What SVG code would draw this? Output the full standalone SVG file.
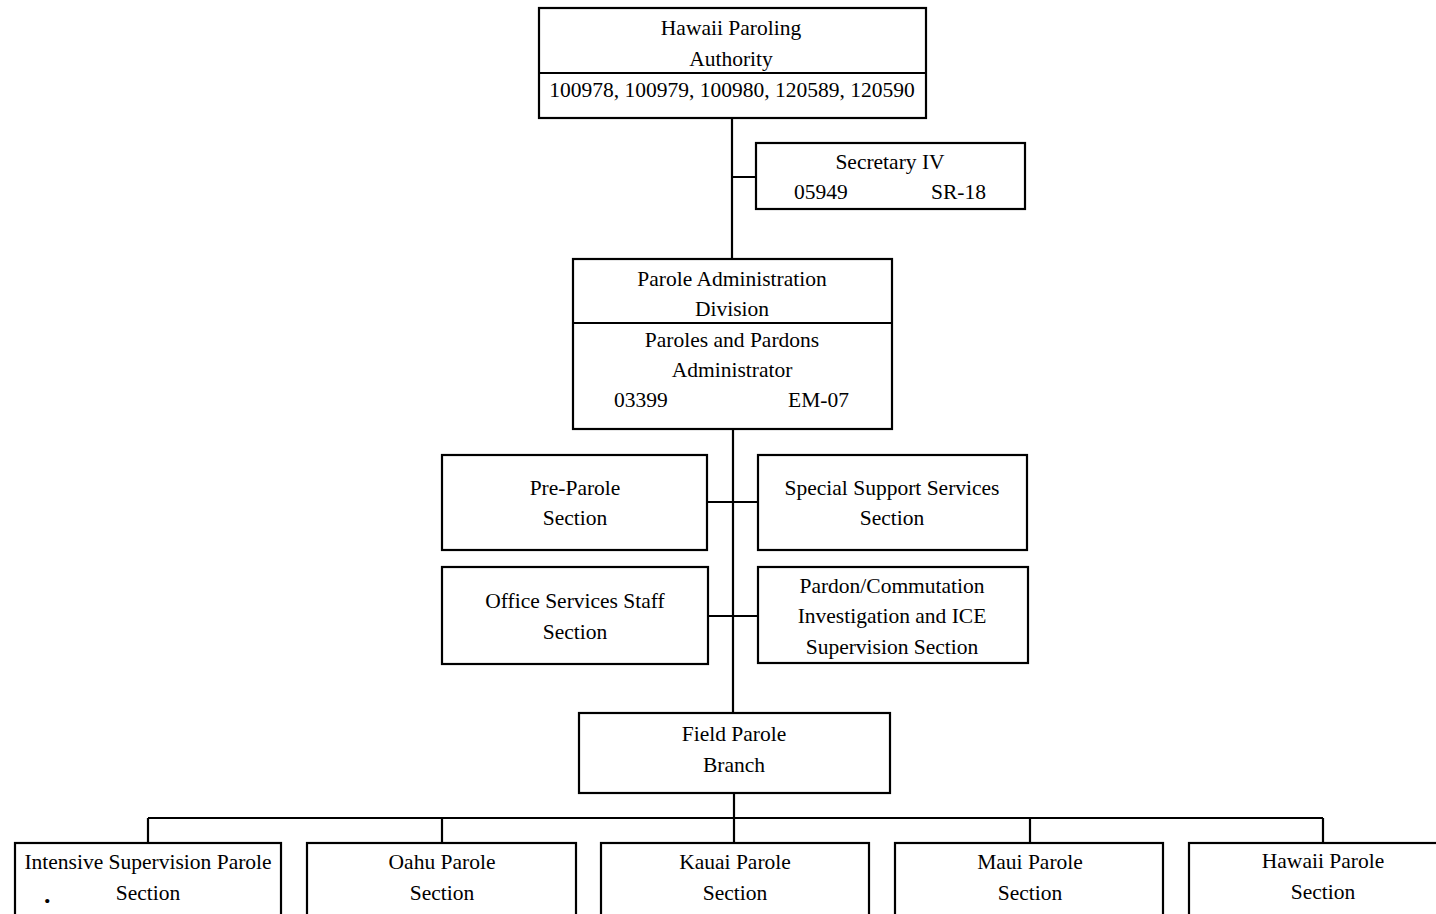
<svg xmlns="http://www.w3.org/2000/svg" width="1436" height="914" viewBox="0 0 1436 914">
<style>
.box{fill:#fff;stroke:#000;stroke-width:2.2}
.ln{stroke:#000;stroke-width:2.2;fill:none}
text{font-family:"Liberation Serif","Times New Roman",serif;font-size:21.5px;fill:#000}
.c{text-anchor:middle}
.dot{font-weight:bold;font-size:26px}
</style>
<rect width="1436" height="914" fill="#fff"/>
<g id="connectors">
<path class="ln" d="M732 118V259M732 177H756M733 429V713M707 502H758M708 616H758M734 793V843M148 818H1323M148 818V843M442 818V843M1030 818V843M1323 818V843"/>
</g>
<g id="hpa">
<rect class="box" x="539" y="8" width="387" height="110"/>
<line class="ln" x1="539" y1="73" x2="926" y2="73"/>
<text class="c" x="731" y="35">Hawaii Paroling</text>
<text class="c" x="731" y="66">Authority</text>
<text class="c" x="732" y="97">100978, 100979, 100980, 120589, 120590</text>
</g>
<g id="secretary">
<rect class="box" x="756" y="143" width="269" height="66"/>
<text class="c" x="890" y="169">Secretary IV</text>
<text x="794" y="199">05949</text>
<text x="931" y="199">SR-18</text>
</g>
<g id="pad">
<rect class="box" x="573" y="259" width="319" height="170"/>
<line class="ln" x1="573" y1="323" x2="892" y2="323"/>
<text class="c" x="732" y="286">Parole Administration</text>
<text class="c" x="732" y="316">Division</text>
<text class="c" x="732" y="347">Paroles and Pardons</text>
<text class="c" x="732" y="377">Administrator</text>
<text x="614" y="407">03399</text>
<text x="788" y="407">EM-07</text>
</g>
<g id="preparole">
<rect class="box" x="442" y="455" width="265" height="95"/>
<text class="c" x="575" y="495">Pre-Parole</text>
<text class="c" x="575" y="525">Section</text>
</g>
<g id="specialsupport">
<rect class="box" x="758" y="455" width="269" height="95"/>
<text class="c" x="892" y="495">Special Support Services</text>
<text class="c" x="892" y="525">Section</text>
</g>
<g id="officeservices">
<rect class="box" x="442" y="567" width="266" height="97"/>
<text class="c" x="575" y="608">Office Services Staff</text>
<text class="c" x="575" y="639">Section</text>
</g>
<g id="pardon">
<rect class="box" x="758" y="567" width="270" height="96"/>
<text class="c" x="892" y="593">Pardon/Commutation</text>
<text class="c" x="892" y="623">Investigation and ICE</text>
<text class="c" x="892" y="654">Supervision Section</text>
</g>
<g id="fieldparole">
<rect class="box" x="579" y="713" width="311" height="80"/>
<text class="c" x="734" y="741">Field Parole</text>
<text class="c" x="734" y="772">Branch</text>
</g>
<g id="intensive">
<rect class="box" x="15" y="843" width="266" height="80"/>
<text class="c" x="148" y="869">Intensive Supervision Parole</text>
<text class="c" x="148" y="900">Section</text>
<text class="dot" x="44" y="903">.</text>
</g>
<g id="oahu">
<rect class="box" x="307" y="843" width="269" height="80"/>
<text class="c" x="442" y="869">Oahu Parole</text>
<text class="c" x="442" y="900">Section</text>
</g>
<g id="kauai">
<rect class="box" x="601" y="843" width="268" height="80"/>
<text class="c" x="735" y="869">Kauai Parole</text>
<text class="c" x="735" y="900">Section</text>
</g>
<g id="maui">
<rect class="box" x="895" y="843" width="268" height="80"/>
<text class="c" x="1030" y="869">Maui Parole</text>
<text class="c" x="1030" y="900">Section</text>
</g>
<g id="hawaii">
<rect class="box" x="1189" y="843" width="260" height="80"/>
<text class="c" x="1323" y="868">Hawaii Parole</text>
<text class="c" x="1323" y="899">Section</text>
</g>
</svg>
